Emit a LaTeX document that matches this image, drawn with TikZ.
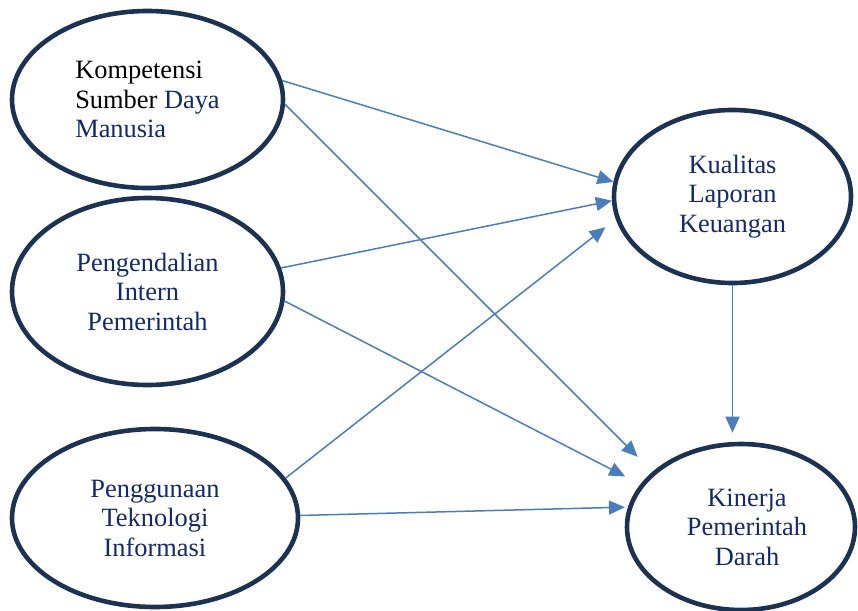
\documentclass[tikz,border=0pt]{standalone}
\usepackage{fontspec}
\setmainfont{Liberation Serif}
\usetikzlibrary{shapes.geometric, arrows.meta, positioning, calc}
\definecolor{textnavy}{RGB}{18,42,104}
\definecolor{ringnavy}{RGB}{28,50,82}
\definecolor{arrowblue}{RGB}{74,126,187}

\begin{document}
\begin{tikzpicture}[
    x=1pt, y=-1pt,
    var/.style={ellipse, draw=ringnavy, line width=4.6pt, inner sep=0pt, align=center, text=textnavy, font=\fontsize{26.4}{29.5}\selectfont},
    arrow/.style={-{Triangle[length=16pt, width=14pt]}, line width=1.5pt, draw=arrowblue}
]
\useasboundingbox (0,0) rectangle (858,610);

% ========== VARIABEL BEBAS (kiri) ==========
\node[var, align=left, minimum width=271pt, minimum height=177pt] (kompetensi) at (147.5,99.5)
    {\textcolor{black}{Kompetensi}\\\textcolor{black}{Sumber} Daya\\Manusia};
\node[var, minimum width=271pt, minimum height=187pt] (pengendalian) at (147.5,291.5)
    {Pengendalian\\Intern\\Pemerintah};
\node[var, minimum width=286pt, minimum height=178pt] (penggunaan) at (155,518)
    {Penggunaan\\Teknologi\\Informasi};

% ========== INTERVENING + TERIKAT (kanan) ==========
\node[var, minimum width=237pt, minimum height=173pt] (kualitas) at (732.5,196.5)
    {Kualitas\\Laporan\\Keuangan};
\node[var, minimum width=228pt, minimum height=166pt] (kinerja) at (741,527)
    {\hspace*{12pt}Kinerja\\\hspace*{12pt}Pemerintah\\\hspace*{12pt}Darah};

% Arrows ke Kualitas Laporan Keuangan
\draw[arrow] (kompetensi.8) -- (kualitas.173);
\draw[arrow] (pengendalian.10) -- (kualitas.182);
\draw[arrow, shorten >=13pt] (penggunaan.17) -- (kualitas.191);

% Arrows ke Kinerja
\draw[arrow, shorten >=21pt] (kompetensi.-2) -- (kinerja.148);
\draw[arrow, shorten >=17pt] (pengendalian.-4) -- (kinerja.157);
\draw[arrow, shorten >=3pt] (penggunaan.1) -- (kinerja.170);
\draw[arrow, shorten >=9pt] (kualitas.south) -- (kualitas.south |- kinerja.north);

\end{tikzpicture}
\end{document}
